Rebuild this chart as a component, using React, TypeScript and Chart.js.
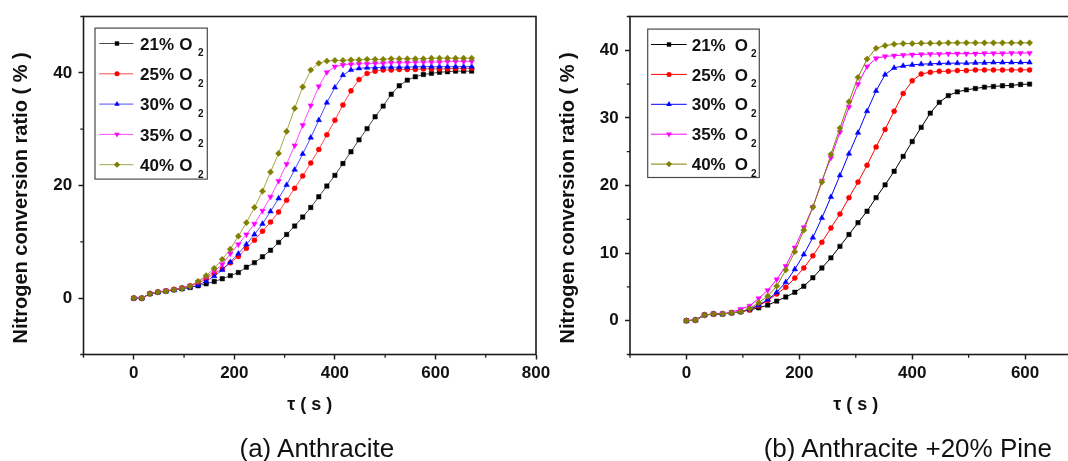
import React, { useEffect, useRef } from 'react';
import { Chart, registerables } from 'chart.js';

Chart.register(...registerables);

const FONT = "Arial, 'Liberation Sans', Helvetica, sans-serif";
const AXIS_COLOR = '#1c1c1c';
const PAGE_W = 1068;
const PAGE_H = 461;

// ---- time axis (s) ----
const TIME_A = [0, 16, 32, 48, 64, 80, 96, 112, 128, 144, 160, 176, 192, 208, 224, 240, 256, 272, 288, 304, 320, 336, 352, 368, 384, 400, 416, 432, 448, 464, 480, 496, 512, 528, 544, 560, 576, 592, 608, 624, 640, 656, 672];
const TIME_B = [0, 16, 32, 48, 64, 80, 96, 112, 128, 144, 160, 176, 192, 208, 224, 240, 256, 272, 288, 304, 320, 336, 352, 368, 384, 400, 416, 432, 448, 464, 480, 496, 512, 528, 544, 560, 576, 592, 608];

// ---- (a) Anthracite ----
const ANTH_21 = [0, 0, 0.77, 1.07, 1.25, 1.48, 1.66, 1.9, 2.2, 2.55, 2.95, 3.45, 4.0, 4.55, 5.5, 6.3, 7.35, 8.5, 9.9, 11.3, 12.8, 14.4, 16.1, 18.0, 19.9, 21.8, 23.9, 26.0, 28.1, 30.1, 32.2, 34.1, 36.2, 37.7, 38.7, 39.3, 39.7, 39.9, 40.1, 40.2, 40.3, 40.3, 40.3];
const ANTH_25 = [0, 0, 0.8, 1.1, 1.3, 1.55, 1.85, 2.2, 2.7, 3.4, 4.4, 5.2, 6.3, 7.4, 8.85, 10.3, 11.9, 13.5, 15.3, 17.4, 19.5, 21.7, 24.0, 26.4, 29.0, 31.6, 34.3, 36.8, 38.8, 39.9, 40.3, 40.5, 40.5, 40.6, 40.6, 40.6, 40.7, 40.7, 40.7, 40.7, 40.8, 40.8, 40.8];
const ANTH_30 = [0, 0, 0.77, 1.05, 1.25, 1.45, 1.7, 1.95, 2.3, 3.0, 3.9, 5.0, 6.4, 7.9, 9.55, 11.3, 13.2, 15.4, 17.7, 20.1, 22.8, 25.6, 28.5, 31.6, 34.7, 37.4, 39.6, 40.5, 40.8, 40.9, 40.9, 41.0, 41.0, 41.0, 41.0, 41.1, 41.1, 41.1, 41.1, 41.1, 41.1, 41.1, 41.1];
const ANTH_35 = [0, 0, 0.8, 1.1, 1.3, 1.5, 1.8, 2.2, 2.9, 3.8, 4.8, 6.0, 7.9, 9.55, 11.3, 13.2, 15.5, 18.0, 20.8, 23.8, 27.1, 30.7, 34.2, 37.6, 40.1, 41.1, 41.4, 41.5, 41.6, 41.6, 41.7, 41.7, 41.8, 41.8, 41.8, 41.9, 41.9, 41.9, 41.9, 42.0, 42.0, 42.0, 42.0];
const ANTH_40 = [0, 0, 0.77, 1.07, 1.25, 1.48, 1.7, 2.1, 3.0, 4.0, 5.3, 6.9, 8.7, 11.0, 13.4, 16.1, 19.0, 22.4, 25.7, 29.6, 33.7, 37.5, 40.5, 41.7, 42.1, 42.2, 42.2, 42.3, 42.3, 42.4, 42.4, 42.4, 42.5, 42.5, 42.5, 42.5, 42.5, 42.6, 42.6, 42.6, 42.6, 42.6, 42.6];

// ---- (b) Anthracite +20% Pine ----
const PINE_21 = [0, 0.1, 0.84, 0.99, 1.0, 1.15, 1.35, 1.6, 1.9, 2.3, 2.9, 3.5, 4.2, 5.1, 6.35, 7.8, 9.3, 11.0, 12.75, 14.5, 16.2, 18.2, 20.1, 22.1, 24.3, 26.5, 28.6, 30.7, 32.3, 33.3, 33.85, 34.15, 34.35, 34.55, 34.65, 34.75, 34.8, 34.95, 35.0];
const PINE_25 = [0, 0.1, 0.84, 0.99, 1.0, 1.15, 1.3, 1.6, 2.2, 3.0, 3.94, 4.95, 6.3, 7.8, 9.6, 11.6, 13.7, 15.8, 18.2, 20.5, 23.0, 25.7, 28.3, 31.0, 33.6, 35.5, 36.5, 36.75, 36.9, 36.9, 37.0, 37.0, 37.1, 37.1, 37.1, 37.1, 37.1, 37.1, 37.1];
const PINE_30 = [0, 0.1, 0.84, 0.99, 1.0, 1.15, 1.3, 1.7, 2.3, 3.1, 4.2, 5.7, 7.6, 9.8, 12.3, 15.2, 18.3, 21.5, 24.7, 27.8, 31.0, 34.0, 36.4, 37.4, 37.7, 37.85, 37.95, 38.0, 38.05, 38.1, 38.1, 38.1, 38.15, 38.15, 38.2, 38.2, 38.2, 38.2, 38.2];
const PINE_35 = [0, 0.1, 0.84, 0.99, 1.05, 1.25, 1.7, 2.2, 3.3, 4.5, 6.1, 8.07, 10.8, 13.8, 16.8, 20.7, 24.1, 27.9, 31.6, 35.0, 37.6, 38.8, 39.1, 39.2, 39.3, 39.35, 39.4, 39.45, 39.45, 39.5, 39.5, 39.5, 39.5, 39.55, 39.55, 39.55, 39.6, 39.6, 39.6];
const PINE_40 = [0, 0.1, 0.84, 0.99, 1.0, 1.15, 1.3, 1.8, 2.66, 3.65, 5.1, 7.5, 10.2, 13.4, 16.8, 20.5, 24.6, 28.5, 32.4, 36.0, 38.7, 40.3, 40.7, 40.9, 41.0, 41.0, 41.05, 41.05, 41.05, 41.1, 41.1, 41.1, 41.1, 41.1, 41.1, 41.1, 41.1, 41.1, 41.1];

// ---- series styling ----
const SERIES_LABELS = ['21%', '25%', '30%', '35%', '40%'];
const SERIES_COLORS = ['#000000', '#ff0000', '#0000ff', '#ff00ff', '#808000'];
const SERIES_MARKERS = ['rect', 'circle', 'triangle', 'triangle', 'rectRot'];
const MARKER_ROTATION = [0, 0, 0, 180, 0];
const MARKER_RADIUS = [3.1, 2.5, 3.2, 3.2, 3.1];

// ---- ticks ----
const X_TICKS_A = [0, 200, 400, 600, 800];
const X_MINOR_A = [-100, 100, 300, 500, 700];
const Y_TICKS_A = [0, 20, 40];
const Y_MINOR_A = [-10, 10, 30, 50];
const X_TICKS_B = [0, 200, 400, 600];
const X_MINOR_B = [-100, 100, 300, 500, 700];
const Y_TICKS_B = [0, 10, 20, 30, 40];
const Y_MINOR_B = [-5, 5, 15, 25, 35, 45];

const Y_TITLE = 'Nitrogen conversion ratio ( % )';
const X_TITLE = '\u03c4 ( s )';

type LegendLayout = {
  dx: number; dy: number; w: number; h: number;
  firstRow: number; rowGap: number;
  lineX0: number; lineX1: number; markX: number;
  textX: number; oGap: number; subGap: number;
};

type PanelCfg = {
  id: string;
  left: number; width: number;
  time: number[]; series: number[][];
  xMin: number; xMax: number; yMin: number; yMax: number;
  xTicks: number[]; xMinor: number[]; yTicks: number[]; yMinor: number[];
  axisWidth: number; padRight: number;
  lineAlpha: number;
  legend: LegendLayout;
};

const PLOT_TOP = 15.7;
const PLOT_BOTTOM = 354.5;

function withAlpha(hex: string, a: number) {
  const n = parseInt(hex.slice(1), 16);
  return `rgba(${(n >> 16) & 255},${(n >> 8) & 255},${n & 255},${a})`;
}

function drawMarker(ctx: CanvasRenderingContext2D, style: string, x: number, y: number, r: number, rotDeg: number, color: string) {
  ctx.fillStyle = color;
  ctx.beginPath();
  if (style === 'rect') {
    const s = r * Math.SQRT1_2;
    ctx.rect(x - s, y - s, 2 * s, 2 * s);
  } else if (style === 'circle') {
    ctx.arc(x, y, r, 0, Math.PI * 2);
  } else if (style === 'triangle') {
    let rad = (rotDeg * Math.PI) / 180;
    ctx.moveTo(x + Math.sin(rad) * r, y - Math.cos(rad) * r);
    rad += (2 * Math.PI) / 3;
    ctx.lineTo(x + Math.sin(rad) * r, y - Math.cos(rad) * r);
    rad += (2 * Math.PI) / 3;
    ctx.lineTo(x + Math.sin(rad) * r, y - Math.cos(rad) * r);
    ctx.closePath();
  } else {
    ctx.moveTo(x - r, y);
    ctx.lineTo(x, y - r);
    ctx.lineTo(x + r, y);
    ctx.lineTo(x, y + r);
    ctx.closePath();
  }
  ctx.fill();
}

function makeDecor(cfg: PanelCfg) {
  return {
    id: 'decor_' + cfg.id,
    afterDraw(chart: any) {
      const { ctx, chartArea: a, scales } = chart;
      ctx.save();
      // frame
      ctx.strokeStyle = AXIS_COLOR;
      ctx.lineWidth = 1.6;
      ctx.strokeRect(a.left, a.top, a.right - a.left, a.bottom - a.top);
      // minor ticks
      ctx.lineWidth = 1.3;
      ctx.beginPath();
      cfg.xMinor.forEach((v) => {
        const px = scales.x.getPixelForValue(v);
        ctx.moveTo(px, a.bottom);
        ctx.lineTo(px, a.bottom + 3.2);
      });
      cfg.yMinor.forEach((v) => {
        const py = scales.y.getPixelForValue(v);
        ctx.moveTo(a.left, py);
        ctx.lineTo(a.left - 3.2, py);
      });
      ctx.stroke();

      // axis titles
      ctx.fillStyle = '#111';
      ctx.font = `bold 20px ${FONT}`;
      ctx.textAlign = 'center';
      ctx.textBaseline = 'middle';
      ctx.save();
      ctx.translate(a.left - 62, (a.top + a.bottom) / 2 + 12.4);
      ctx.rotate(-Math.PI / 2);
      ctx.fillText(Y_TITLE, 0, 0);
      ctx.restore();
      ctx.font = `bold 18px ${FONT}`;
      ctx.fillText(X_TITLE, (a.left + a.right) / 2, a.bottom + 50.5);

      // legend
      const L = cfg.legend;
      const bx = a.left + L.dx;
      const by = a.top + L.dy;
      ctx.fillStyle = '#ffffff';
      ctx.fillRect(bx, by, L.w, L.h);
      ctx.strokeStyle = '#4a4a4a';
      ctx.lineWidth = 1.2;
      ctx.strokeRect(bx, by, L.w, L.h);
      ctx.textAlign = 'left';
      ctx.textBaseline = 'alphabetic';
      SERIES_LABELS.forEach((lab, k) => {
        const ry = by + L.firstRow + k * L.rowGap;
        ctx.strokeStyle = withAlpha(SERIES_COLORS[k], cfg.lineAlpha);
        ctx.lineWidth = 1;
        ctx.beginPath();
        ctx.moveTo(bx + L.lineX0, ry);
        ctx.lineTo(bx + L.lineX1, ry);
        ctx.stroke();
        drawMarker(ctx, SERIES_MARKERS[k], bx + L.markX, ry, MARKER_RADIUS[k], MARKER_ROTATION[k], SERIES_COLORS[k]);
        const base = ry + 6.1;
        ctx.fillStyle = '#111';
        ctx.font = `bold 17px ${FONT}`;
        const tx = bx + L.textX;
        ctx.fillText(lab, tx, base);
        const w1 = ctx.measureText(lab).width;
        const ox = tx + w1 + L.oGap;
        ctx.fillText('O', ox, base);
        const w2 = ctx.measureText('O').width;
        ctx.font = `bold 10px ${FONT}`;
        ctx.fillText('2', ox + w2 + L.subGap, base + 6.7);
      });
      ctx.restore();
    },
  };
}

function Panel({ cfg }: { cfg: PanelCfg }) {
  const ref = useRef<HTMLCanvasElement | null>(null);
  useEffect(() => {
    if (!ref.current) return;
    const tickFont = { family: FONT, size: 17, weight: 'bold' as const };
    const gridOpts = {
      display: true,
      drawOnChartArea: false,
      drawTicks: true,
      tickLength: 5,
      tickWidth: 1.5,
      tickColor: AXIS_COLOR,
    };
    const chart = new Chart(ref.current, {
      type: 'line',
      data: {
        datasets: cfg.series.map((vals, k) => ({
          label: SERIES_LABELS[k] + ' O2',
          data: vals.map((y, i) => ({ x: cfg.time[i], y })),
          borderColor: withAlpha(SERIES_COLORS[k], cfg.lineAlpha),
          backgroundColor: SERIES_COLORS[k],
          borderWidth: 1,
          tension: 0,
          fill: false,
          pointStyle: SERIES_MARKERS[k] as any,
          pointRotation: MARKER_ROTATION[k],
          pointRadius: MARKER_RADIUS[k],
          pointBackgroundColor: SERIES_COLORS[k],
          pointBorderColor: SERIES_COLORS[k],
          pointBorderWidth: 0.5,
          order: 5 - k,
        })),
      },
      options: {
        responsive: false,
        animation: false,
        devicePixelRatio: 1,
        events: [],
        layout: { padding: { left: 0, top: PLOT_TOP, right: cfg.padRight, bottom: 0 } },
        plugins: {
          legend: { display: false },
          tooltip: { enabled: false },
          title: { display: false },
        },
        scales: {
          x: {
            type: 'linear',
            min: cfg.xMin,
            max: cfg.xMax,
            afterBuildTicks: (s: any) => {
              s.ticks = cfg.xTicks.map((v) => ({ value: v }));
            },
            afterFit: (s: any) => {
              s.height = PAGE_H - PLOT_BOTTOM;
            },
            grid: gridOpts,
            border: { display: false },
            ticks: {
              font: tickFont,
              color: '#111',
              padding: 3.5,
              maxRotation: 0,
              autoSkip: false,
              callback: (v: any) => String(v),
            },
          },
          y: {
            type: 'linear',
            min: cfg.yMin,
            max: cfg.yMax,
            afterBuildTicks: (s: any) => {
              s.ticks = cfg.yTicks.map((v) => ({ value: v }));
            },
            afterFit: (s: any) => {
              s.width = cfg.axisWidth;
            },
            grid: gridOpts,
            border: { display: false },
            ticks: {
              font: tickFont,
              color: '#111',
              padding: 6.3,
              autoSkip: false,
              callback: (v: any) => String(v),
            },
          },
        },
      } as any,
      plugins: [makeDecor(cfg)],
    });
    return () => chart.destroy();
  }, [cfg]);
  return (
    <canvas
      ref={ref}
      width={cfg.width}
      height={PAGE_H}
      style={{ position: 'absolute', left: cfg.left, top: 0, width: cfg.width, height: PAGE_H }}
    />
  );
}

const PANEL_A: PanelCfg = {
  id: 'a',
  left: 0,
  width: 556,
  time: TIME_A,
  series: [ANTH_21, ANTH_25, ANTH_30, ANTH_35, ANTH_40],
  xMin: -100, xMax: 800, yMin: -10, yMax: 50,
  xTicks: X_TICKS_A, xMinor: X_MINOR_A, yTicks: Y_TICKS_A, yMinor: Y_MINOR_A,
  axisWidth: 83.5,
  padRight: 20,
  lineAlpha: 0.7,
  legend: { dx: 11.5, dy: 11.6, w: 112.3, h: 151, firstRow: 15.4, rowGap: 30.3, lineX0: 4.3, lineX1: 38.3, markX: 22, textX: 45, oGap: 5.3, subGap: 5.5 },
};

const PANEL_B: PanelCfg = {
  id: 'b',
  left: 540,
  width: 560,
  time: TIME_B,
  series: [PINE_21, PINE_25, PINE_30, PINE_35, PINE_40],
  xMin: -100, xMax: 700, yMin: -5, yMax: 45,
  xTicks: X_TICKS_B, xMinor: X_MINOR_B, yTicks: Y_TICKS_B, yMinor: Y_MINOR_B,
  axisWidth: 90,
  padRight: 18.5,
  lineAlpha: 1,
  legend: { dx: 17.7, dy: 12.6, w: 111.6, h: 148.4, firstRow: 15.4, rowGap: 29.9, lineX0: 3.3, lineX1: 39, markX: 21.3, textX: 44, oGap: 9, subGap: 3 },
};

const CAPTIONS = [
  { text: '(a) Anthracite', center: 316.8 },
  { text: '(b) Anthracite +20% Pine', center: 907.8 },
];

export default function App() {
  return (
    <div
      style={{
        position: 'fixed',
        left: 0,
        top: 0,
        width: PAGE_W,
        height: PAGE_H,
        overflow: 'hidden',
        background: '#ffffff',
      }}
    >
      <Panel cfg={PANEL_A} />
      <Panel cfg={PANEL_B} />
      {CAPTIONS.map((c) => (
        <div
          key={c.text}
          style={{
            position: 'absolute',
            left: c.center - 220,
            width: 440,
            top: 435.3,
            textAlign: 'center',
            fontFamily: FONT,
            fontSize: 26,
            lineHeight: '26px',
            color: '#111',
            whiteSpace: 'nowrap',
          }}
        >
          {c.text}
        </div>
      ))}
    </div>
  );
}
